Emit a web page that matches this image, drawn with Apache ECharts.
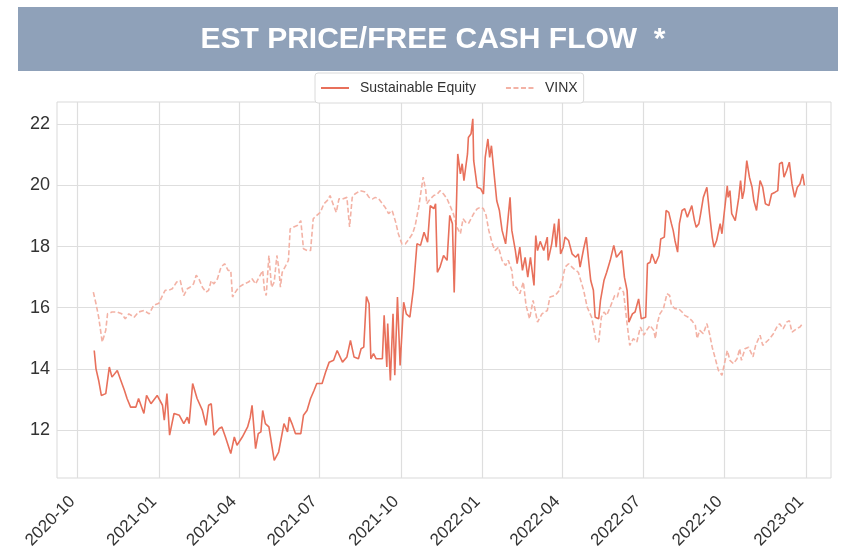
<!DOCTYPE html>
<html>
<head>
<meta charset="utf-8">
<script src="https://cdn.jsdelivr.net/npm/echarts@6/dist/echarts.min.js"></script>
<style>
  html, body { margin: 0; padding: 0; background: #fff; }
  #chart { width: 846px; height: 559px; }
</style>
</head>
<body>
<div id="chart"></div>
<script>
const titleText = 'EST PRICE/FREE CASH FLOW  *';
const seriesNames = ['Sustainable Equity', 'VINX'];
const xTickLabels = ['2020-10', '2021-01', '2021-04', '2021-07', '2021-10',
  '2022-01', '2022-04', '2022-07', '2022-10', '2023-01'];
const yTickLabels = [12, 14, 16, 18, 20, 22];

const seDates = [
  '2020-10-20','2020-10-22','2020-10-25','2020-10-28','2020-11-02','2020-11-06','2020-11-09','2020-11-15',
  '2020-11-19','2020-11-23','2020-11-26','2020-11-30','2020-12-06','2020-12-09','2020-12-15','2020-12-18',
  '2020-12-23','2020-12-30','2021-01-05','2021-01-07','2021-01-10','2021-01-13','2021-01-18','2021-01-24',
  '2021-01-29','2021-02-02','2021-02-04','2021-02-08','2021-02-13','2021-02-19','2021-02-23','2021-02-26',
  '2021-03-01','2021-03-04','2021-03-10','2021-03-13','2021-03-17','2021-03-23','2021-03-27','2021-03-30',
  '2021-04-05','2021-04-11','2021-04-14','2021-04-16','2021-04-20','2021-04-23','2021-04-26','2021-04-28',
  '2021-05-01','2021-05-05','2021-05-11','2021-05-16','2021-05-22','2021-05-26','2021-05-28','2021-05-31',
  '2021-06-04','2021-06-10','2021-06-13','2021-06-17','2021-06-21','2021-06-25','2021-06-28','2021-07-04',
  '2021-07-08','2021-07-12','2021-07-17','2021-07-21','2021-07-27','2021-08-01','2021-08-05','2021-08-09',
  '2021-08-14','2021-08-17','2021-08-20','2021-08-23','2021-08-26','2021-08-28','2021-08-31','2021-09-03',
  '2021-09-10','2021-09-12','2021-09-15','2021-09-16','2021-09-19','2021-09-22','2021-09-24','2021-09-27',
  '2021-09-30','2021-10-04','2021-10-07','2021-10-11','2021-10-15','2021-10-19','2021-10-23','2021-10-27',
  '2021-10-31','2021-11-03','2021-11-07','2021-11-09','2021-11-11','2021-11-14','2021-11-18','2021-11-22',
  '2021-11-25','2021-11-28','2021-11-30','2021-12-04','2021-12-07','2021-12-09','2021-12-11','2021-12-15',
  '2021-12-16','2021-12-19','2021-12-21','2021-12-22','2021-12-26','2021-12-30','2022-01-02','2022-01-04',
  '2022-01-07','2022-01-09','2022-01-11','2022-01-14','2022-01-17','2022-01-20','2022-01-23','2022-01-27',
  '2022-02-01','2022-02-03','2022-02-07','2022-02-09','2022-02-12','2022-02-15','2022-02-18','2022-02-21',
  '2022-02-24','2022-02-28','2022-03-02','2022-03-04','2022-03-07','2022-03-11','2022-03-15','2022-03-16',
  '2022-03-20','2022-03-23','2022-03-25','2022-03-28','2022-03-30','2022-04-02','2022-04-04','2022-04-08',
  '2022-04-12','2022-04-16','2022-04-19','2022-04-21','2022-04-25','2022-04-28','2022-05-01','2022-05-03',
  '2022-05-06','2022-05-08','2022-05-12','2022-05-14','2022-05-18','2022-05-21','2022-05-25','2022-05-29',
  '2022-06-01','2022-06-04','2022-06-07','2022-06-10','2022-06-13','2022-06-15','2022-06-19','2022-06-22',
  '2022-06-26','2022-06-29','2022-07-04','2022-07-06','2022-07-09','2022-07-11','2022-07-15','2022-07-19',
  '2022-07-21','2022-07-25','2022-07-27','2022-07-30','2022-08-02','2022-08-04','2022-08-06','2022-08-09',
  '2022-08-11','2022-08-14','2022-08-17','2022-08-20','2022-08-22','2022-08-25','2022-08-28','2022-08-30',
  '2022-09-02','2022-09-04','2022-09-07','2022-09-11','2022-09-14','2022-09-17','2022-09-19','2022-09-22',
  '2022-09-26','2022-09-28','2022-09-30','2022-10-04','2022-10-05','2022-10-07','2022-10-09','2022-10-13',
  '2022-10-17','2022-10-19','2022-10-21','2022-10-23','2022-10-26','2022-10-29','2022-11-01','2022-11-03',
  '2022-11-06','2022-11-10','2022-11-13','2022-11-16','2022-11-20','2022-11-23','2022-11-27','2022-11-30',
  '2022-12-02','2022-12-05','2022-12-07','2022-12-10','2022-12-13','2022-12-16','2022-12-19','2022-12-22',
  '2022-12-25','2022-12-28','2022-12-30'
];
const seValues = [
  14.60,14.00,13.62,13.13,13.19,14.06,13.73,13.95,
  13.62,13.30,13.03,12.75,12.75,13.03,12.54,13.13,
  12.86,13.13,12.81,12.32,13.19,11.83,12.54,12.48,
  12.21,12.42,12.21,13.52,13.03,12.64,12.15,12.81,
  12.86,11.83,12.05,12.10,11.77,11.23,11.77,11.50,
  11.77,12.10,12.42,12.81,11.39,11.88,11.94,12.64,
  12.21,12.10,11.01,11.28,12.21,11.94,12.42,12.21,
  11.88,11.88,12.48,12.64,13.03,13.30,13.52,13.52,
  13.90,14.22,14.28,14.60,14.22,14.39,14.93,14.39,
  14.33,14.66,14.71,16.37,16.13,14.33,14.50,14.33,
  14.33,15.75,14.06,15.48,13.62,15.80,13.79,16.35,
  14.11,16.18,15.80,15.69,16.62,18.09,18.04,18.47,
  18.14,19.34,19.24,19.40,17.16,17.33,17.71,17.55,
  19.02,18.75,16.50,21.03,20.38,20.71,20.16,21.03,
  21.57,21.69,22.18,20.81,19.94,19.89,19.72,20.92,
  21.52,20.92,21.30,20.38,19.50,19.18,18.53,18.09,
  19.61,18.53,17.87,17.44,17.98,17.22,17.65,17.00,
  17.65,16.73,18.36,17.87,18.17,17.87,18.31,17.55,
  18.09,18.75,17.98,18.91,17.76,17.98,18.31,18.20,
  17.76,17.65,17.76,17.33,17.93,18.31,17.44,16.89,
  16.57,15.69,15.64,16.24,16.90,17.16,17.55,18.04,
  17.65,17.76,17.87,17.00,16.57,15.53,15.80,15.86,
  16.29,15.64,15.69,17.44,17.49,17.76,17.44,17.71,
  18.25,18.31,19.18,19.12,18.75,18.53,18.20,17.82,
  18.75,19.18,19.24,18.96,19.02,19.34,18.85,18.63,
  18.75,19.08,19.61,19.94,19.08,18.31,17.98,18.20,
  18.75,18.42,18.96,19.99,19.61,19.83,19.08,18.85,
  19.61,20.16,19.56,19.83,20.81,20.27,19.94,19.50,
  19.18,20.16,19.94,19.40,19.34,19.72,19.78,19.83,
  20.71,20.76,20.27,20.49,20.76,20.05,19.61,19.94,
  20.05,20.38,20.00
];

const vinxDates = [
  '2020-10-19','2020-10-22','2020-10-25','2020-10-29','2020-11-02','2020-11-04','2020-11-09','2020-11-15',
  '2020-11-20','2020-11-24','2020-11-28','2020-12-04','2020-12-09','2020-12-15','2020-12-21','2020-12-26',
  '2021-01-01','2021-01-05','2021-01-08','2021-01-12','2021-01-16','2021-01-21','2021-01-25','2021-01-29',
  '2021-02-02','2021-02-05','2021-02-09','2021-02-12','2021-02-15','2021-02-19','2021-02-23','2021-02-26',
  '2021-03-01','2021-03-04','2021-03-08','2021-03-12','2021-03-16','2021-03-20','2021-03-23','2021-03-25',
  '2021-03-27','2021-04-01','2021-04-07','2021-04-12','2021-04-16','2021-04-20','2021-04-24','2021-04-28',
  '2021-04-30','2021-05-02','2021-05-05','2021-05-08','2021-05-11','2021-05-14','2021-05-16','2021-05-18',
  '2021-05-20','2021-05-24','2021-05-27','2021-05-29','2021-06-02','2021-06-06','2021-06-10','2021-06-13',
  '2021-06-17','2021-06-21','2021-06-24','2021-06-28','2021-07-02','2021-07-06','2021-07-10','2021-07-13',
  '2021-07-17','2021-07-20','2021-07-23','2021-07-27','2021-08-01','2021-08-04','2021-08-07','2021-08-10',
  '2021-08-16','2021-08-22','2021-08-26','2021-08-30','2021-09-02','2021-09-06','2021-09-10','2021-09-13',
  '2021-09-17','2021-09-21','2021-09-25','2021-09-28','2021-10-02','2021-10-06','2021-10-10','2021-10-14',
  '2021-10-17','2021-10-21','2021-10-24','2021-10-26','2021-10-29','2021-10-30','2021-11-03','2021-11-07',
  '2021-11-11','2021-11-14','2021-11-18','2021-11-22','2021-11-26','2021-11-29','2021-12-03','2021-12-07',
  '2021-12-10','2021-12-13','2021-12-16','2021-12-19','2021-12-22','2021-12-26','2021-12-30','2022-01-02',
  '2022-01-05','2022-01-08','2022-01-12','2022-01-15','2022-01-19','2022-01-23','2022-01-27','2022-01-30',
  '2022-02-03','2022-02-05','2022-02-08','2022-02-12','2022-02-16','2022-02-19','2022-02-23','2022-02-27',
  '2022-03-04','2022-03-09','2022-03-15','2022-03-18','2022-03-24','2022-03-28','2022-04-01','2022-04-04',
  '2022-04-08','2022-04-14','2022-04-19','2022-04-25','2022-04-29','2022-05-04','2022-05-09','2022-05-12',
  '2022-05-15','2022-05-18','2022-05-21','2022-05-25','2022-05-30','2022-06-02','2022-06-05','2022-06-09',
  '2022-06-13','2022-06-16','2022-06-20','2022-06-24','2022-06-28','2022-07-02','2022-07-05','2022-07-09',
  '2022-07-13','2022-07-15','2022-07-17','2022-07-20','2022-07-24','2022-07-28','2022-07-31','2022-08-02',
  '2022-08-06','2022-08-10','2022-08-14','2022-08-17','2022-08-21','2022-08-25','2022-08-29','2022-08-31',
  '2022-09-03','2022-09-07','2022-09-11','2022-09-14','2022-09-17','2022-09-20','2022-09-24','2022-09-28',
  '2022-09-30','2022-10-04','2022-10-07','2022-10-11','2022-10-15','2022-10-18','2022-10-20','2022-10-24',
  '2022-10-28','2022-11-02','2022-11-05','2022-11-10','2022-11-13','2022-11-17','2022-11-21','2022-11-25',
  '2022-11-29','2022-12-02','2022-12-06','2022-12-10','2022-12-13','2022-12-16','2022-12-21','2022-12-25',
  '2022-12-28'
];
const vinxValues = [
  16.51,16.13,15.69,14.88,15.26,15.80,15.86,15.86,
  15.80,15.64,15.80,15.69,15.86,15.91,15.80,16.08,
  16.15,16.40,16.57,16.57,16.62,16.84,16.89,16.40,
  16.62,16.67,16.78,17.06,16.95,16.67,16.51,16.57,
  16.89,16.78,16.95,17.33,17.44,17.22,17.22,16.35,
  16.46,16.67,16.78,16.84,16.95,16.78,17.00,17.22,
  16.57,16.40,17.71,16.67,16.84,17.71,17.33,16.67,
  17.16,17.38,17.55,18.58,18.64,18.69,18.85,17.93,
  17.87,17.87,18.91,19.02,19.12,19.40,19.51,19.67,
  19.34,19.12,19.56,19.56,19.61,18.64,19.61,19.72,
  19.83,19.78,19.61,19.56,19.61,19.56,19.40,19.29,
  19.08,19.18,18.80,18.42,18.09,18.09,18.25,18.42,
  18.69,19.29,19.89,20.27,19.83,19.40,19.56,19.67,
  19.72,19.83,19.72,19.56,19.29,19.08,18.64,18.42,
  18.91,18.80,18.75,18.91,19.08,19.24,19.29,19.24,
  19.02,18.53,18.09,17.87,17.98,17.55,17.38,17.55,
  17.22,16.67,16.67,16.46,16.84,16.08,15.64,16.24,
  15.53,15.80,15.91,16.35,16.40,16.55,16.89,17.33,
  17.44,17.27,17.16,16.57,16.02,15.69,14.93,14.88,
  15.69,15.86,15.75,16.02,16.40,16.35,16.67,16.51,
  15.48,14.77,14.99,14.88,15.37,15.10,15.26,15.42,
  15.26,14.99,15.48,15.80,15.97,16.46,16.40,16.08,
  15.97,15.97,15.86,15.75,15.69,15.58,15.42,14.99,
  15.26,15.15,15.48,15.15,14.71,14.39,13.95,13.79,
  14.06,14.60,14.28,14.17,14.33,14.66,14.28,14.66,
  14.71,14.39,14.77,15.10,14.77,14.88,14.99,15.15,
  15.37,15.48,15.31,15.53,15.58,15.20,15.31,15.37,
  15.48
];

const chart = echarts.init(document.getElementById('chart'), null, { renderer: 'canvas' });

const labelFont = "'Liberation Sans', Arial, sans-serif";
// dates -> timestamps so a plain value axis can place them
const toTime = s => +new Date(s + 'T00:00:00');
const xTickValues = xTickLabels.map(s => toTime(s + '-01'));
const pair = (dates, values) => dates.map((d, i) => [toTime(d), values[i]]);
const pad2 = n => (n < 10 ? '0' : '') + n;

const option = {
  animation: false,
  graphic: [
    {
      type: 'rect',
      shape: { x: 18, y: 7, width: 820, height: 64 },
      style: { fill: '#8fa1b9' },
      silent: true
    },
    {
      type: 'text',
      x: 433, y: 40,
      style: {
        text: titleText,
        fill: '#ffffff',
        font: "bold 30px 'Liberation Sans', Arial, sans-serif",
        textAlign: 'center',
        textVerticalAlign: 'middle'
      },
      silent: true
    }
  ],
  legend: {
    left: 315,
    top: 73,
    padding: [8, 6, 8, 5],
    itemWidth: 28,
    itemHeight: 16,
    itemGap: 29,
    backgroundColor: '#ffffff',
    borderColor: '#dadada',
    borderWidth: 1,
    borderRadius: 3,
    itemStyle: { opacity: 0 },
    textStyle: {
      fontFamily: labelFont,
      fontSize: 14,
      color: '#333333',
      padding: [0, 0, 0, 6]
    },
    data: seriesNames
  },
  grid: {
    left: 57,
    right: 15,
    top: 102,
    bottom: 81,
    show: true,
    borderColor: '#d9d9d9',
    borderWidth: 1,
    containLabel: false
  },
  xAxis: {
    type: 'value',
    min: toTime('2020-09-08'),
    max: toTime('2023-01-29'),
    axisLine: { show: false },
    axisTick: { show: false, customValues: xTickValues },
    splitLine: { show: true, lineStyle: { color: '#dedede', width: 1.2 } },
    axisLabel: {
      customValues: xTickValues,
      rotate: 45,
      margin: 16,
      padding: [0, 7, 0, 0],
      fontFamily: labelFont,
      fontSize: 17,
      color: '#333333',
      formatter: v => {
        const d = new Date(v);
        return d.getFullYear() + '-' + pad2(d.getMonth() + 1);
      }
    }
  },
  yAxis: {
    type: 'value',
    min: 10.43,
    max: 22.73,
    axisLine: { show: false },
    axisTick: { show: false, customValues: yTickLabels },
    splitLine: { show: true, lineStyle: { color: '#dedede', width: 1.2 } },
    axisLabel: {
      customValues: yTickLabels,
      margin: 7,
      fontFamily: labelFont,
      fontSize: 18,
      color: '#333333'
    }
  },
  series: [
    {
      name: seriesNames[0],
      type: 'line',
      symbol: 'none',
      data: pair(seDates, seValues),
      lineStyle: { color: '#e8705b', width: 1.6 },
      itemStyle: { color: '#e8705b' },
      z: 3
    },
    {
      name: seriesNames[1],
      type: 'line',
      symbol: 'none',
      data: pair(vinxDates, vinxValues),
      lineStyle: { color: '#f3b2a5', width: 1.6, type: [5, 2.5] },
      itemStyle: { color: '#f3b2a5' },
      z: 2
    }
  ]
};

chart.setOption(option);
</script>
</body>
</html>
